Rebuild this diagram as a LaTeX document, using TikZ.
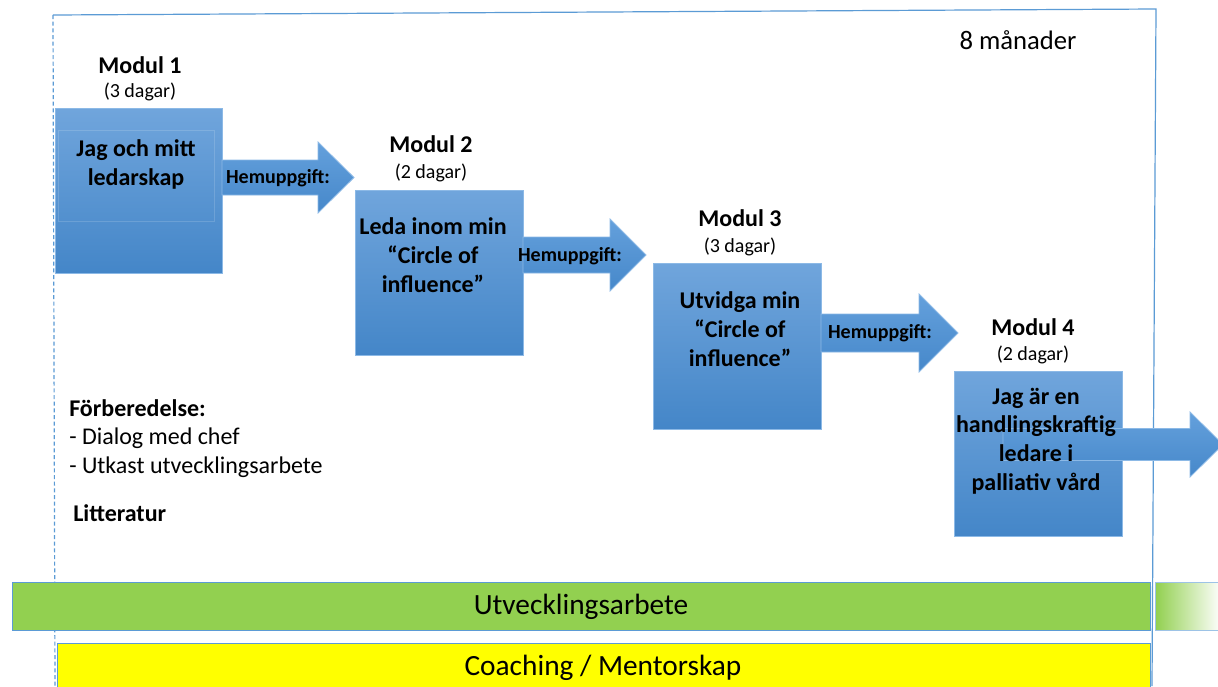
\documentclass[tikz,border=0pt]{standalone}
\usepackage{fontspec}
\setmainfont{Carlito}
\definecolor{frameblue}{RGB}{91,155,213}
\definecolor{boxtop}{RGB}{112,165,220}
\definecolor{boxbot}{RGB}{68,134,200}
\definecolor{boxedge}{RGB}{140,185,230}
\definecolor{arrtop}{RGB}{100,160,220}
\definecolor{arrbot}{RGB}{70,136,202}
\definecolor{barGreen}{RGB}{146,208,80}
\definecolor{barYellow}{RGB}{255,255,0}
\tikzset{
  modbox/.style={draw=boxedge, line width=0.8pt, top color=boxtop, bottom color=boxbot, inner sep=0pt},
  blockarr/.style={draw=boxedge, line width=0.6pt, top color=arrtop, bottom color=arrbot},
  boxtext/.style={font=\fontsize{18}{21.5}\selectfont\bfseries, align=center, anchor=base, inner sep=0pt},
  modlabel/.style={font=\fontsize{18}{20}\selectfont\bfseries, anchor=base, inner sep=0pt},
  daglabel/.style={font=\fontsize{15}{17}\selectfont, anchor=base, inner sep=0pt},
  hemtext/.style={font=\fontsize{15}{17}\selectfont\bfseries, anchor=base, inner sep=0pt},
  bartext/.style={font=\fontsize{22}{24}\selectfont, inner sep=0pt},
  sidetext/.style={font=\fontsize{18}{21}\selectfont, anchor=base west, inner sep=0pt, align=left}
}
% block arrow: x0, xh (head start), xt (tip), yc, half shaft, half head
\newcommand{\blockarrow}[6]{%
  \path[blockarr] (#1,#4-#5) -- (#2,#4-#5) -- (#2,#4-#6) -- (#3,#4) -- (#2,#4+#6) -- (#2,#4+#5) -- (#1,#4+#5) -- cycle;}
\begin{document}
\begin{tikzpicture}[x=0.75pt,y=-0.75pt]
\useasboundingbox (0,0) rectangle (1218,686);
\fill[white] (0,0) rectangle (1218,686);

% frame
\coordinate (ftl) at (53,15);
\coordinate (ftr) at (1156,9);
\coordinate (fbr) at (1152,686);
\coordinate (fbl) at (55,686);
\draw[frameblue, line width=0.9pt] (ftl) -- (ftr) -- (fbr);
\draw[frameblue, line width=0.9pt, dash pattern=on 3pt off 2pt] (ftl) -- (fbl);
\node[font=\fontsize{20}{22}\selectfont, inner sep=0pt] (months) at (1018,40) {8 månader};

% bars
\node[draw=frameblue, line width=1.1pt, fill=barGreen, minimum width=1138*0.75pt, minimum height=48*0.75pt, inner sep=0pt, anchor=north west] (green) at (12,582) {};
\node[bartext] (greentxt) at (581,607) {Utvecklingsarbete};
\node[draw=frameblue!60, line width=0.8pt, left color=barGreen, right color=white, minimum width=66*0.75pt, minimum height=48*0.75pt, inner sep=0pt, anchor=north west] (greenfade) at (1155,582) {};
\node[draw=frameblue, line width=0.9pt, fill=barYellow, minimum width=1093*0.75pt, minimum height=50*0.75pt, inner sep=0pt, anchor=north west] (yellow) at (57,643) {};
\node[bartext] (yellowtxt) at (603,668) {Coaching / Mentorskap};

% module boxes
\node[modbox, minimum width=167*0.75pt, minimum height=165*0.75pt, anchor=north west] (m1) at (55,108) {};
\draw[white, opacity=0.15, line width=0.7pt] (58,130) rectangle (214,221);
\node[modbox, minimum width=168*0.75pt, minimum height=165*0.75pt, anchor=north west] (m2) at (355,190) {};
\node[modbox, minimum width=168*0.75pt, minimum height=166*0.75pt, anchor=north west] (m3) at (653,263) {};
\node[modbox, minimum width=168*0.75pt, minimum height=165*0.75pt, anchor=north west] (m4) at (954,371) {};

% labels above boxes
\node[modlabel] (l1) at (140,73) {Modul 1};
\node[daglabel] (d1) at (140,97) {(3 dagar)};
\node[modlabel] (l2) at (431,152) {Modul 2};
\node[daglabel] (d2) at (431,178) {(2 dagar)};
\node[modlabel] (l3) at (740,226) {Modul 3};
\node[daglabel] (d3) at (740,252) {(3 dagar)};
\node[modlabel] (l4) at (1033,335) {Modul 4};
\node[daglabel] (d4) at (1033,360) {(2 dagar)};

% block arrows
\blockarrow{222}{318}{354}{177.5}{17.5}{35.5}
\node[hemtext] (h1) at (278,183) {Hemuppgift:};
\blockarrow{523}{610}{646}{255}{18}{36}
\node[hemtext] (h2) at (570,261) {Hemuppgift:};
\blockarrow{821}{919}{958}{333}{19}{39}
\node[hemtext] (h3) at (880,338) {Hemuppgift:};
\begin{scope}
\clip (0,0) rectangle (1218,686);
\blockarrow{1003}{1190}{1223}{444.5}{16}{32.5}
\end{scope}

% box texts (base = last line)
\node[boxtext] (t1) at (136,185) {Jag och mitt\\ledarskap};
\node[boxtext] (t2) at (433,292) {Leda inom min\\“Circle of\\influence”};
\node[boxtext] (t3) at (740,366) {Utvidga min\\“Circle of\\influence”};
\node[boxtext] (t4) at (1036,490) {Jag är en\\handlingskraftig\\ledare i\\palliativ vård};

% side texts
\node[sidetext, font=\fontsize{18}{21}\selectfont\bfseries] (prep) at (69,416) {Förberedelse:};
\node[sidetext] (prep1) at (69,444) {- Dialog med chef};
\node[sidetext] (prep2) at (69,473) {- Utkast utvecklingsarbete};
\node[sidetext, font=\fontsize{18}{21}\selectfont\bfseries] (lit) at (73,521) {Litteratur};
\end{tikzpicture}
\end{document}
